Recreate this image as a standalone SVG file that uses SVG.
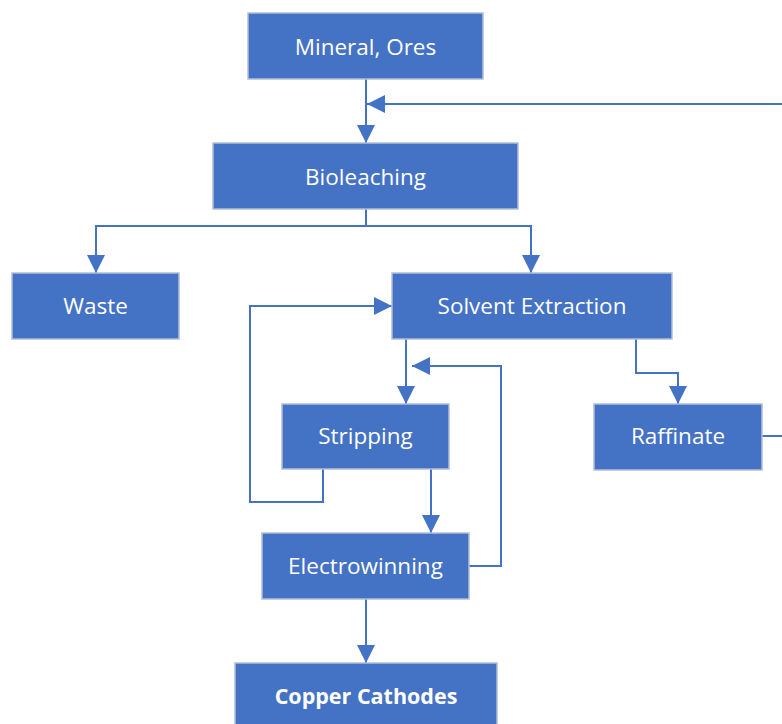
<svg xmlns="http://www.w3.org/2000/svg" width="782" height="724" viewBox="0 0 782 724">
<style>
.box{fill:#4472C4;stroke:#b3bfd6;stroke-width:1.5}
.lbl{font-family:"Open Sans","Noto Sans","Liberation Sans",sans-serif;font-size:22.5px;fill:#ffffff;text-anchor:middle;dominant-baseline:central}
.b{font-weight:bold;font-size:21.5px}
.c{fill:none;stroke:#4472C4;stroke-width:2}
</style>
<defs>
<marker id="ah" markerUnits="userSpaceOnUse" markerWidth="18" markerHeight="18" viewBox="0 0 16 16" refX="16" refY="8" orient="auto">
<path d="M0,0 L16,8 L0,16 Z" fill="#4472C4"/>
</marker>
</defs>
<rect width="782" height="724" fill="#ffffff"/>
<g id="connectors">
<path class="c" d="M366,79 V143" marker-end="url(#ah)"/>
<path class="c" d="M790,104 H367" marker-end="url(#ah)"/>
<path class="c" d="M762,436 H790"/>
<path class="c" d="M366,209 V226 H96 V273" marker-end="url(#ah)"/>
<path class="c" d="M366,226 H531 V273" marker-end="url(#ah)"/>
<path class="c" d="M636,339 V373 H678 V404" marker-end="url(#ah)"/>
<path class="c" d="M406,339 V404" marker-end="url(#ah)"/>
<path class="c" d="M323,469 V502 H250 V306 H392" marker-end="url(#ah)"/>
<path class="c" d="M431,469 V533" marker-end="url(#ah)"/>
<path class="c" d="M469,566 H501 V366 H412" marker-end="url(#ah)"/>
<path class="c" d="M366,599 V663" marker-end="url(#ah)"/>
</g>
<g id="mineral"><rect class="box" x="248" y="13" width="235" height="66"/><text class="lbl" x="365.5" y="46">Mineral, Ores</text></g>
<g id="bioleaching"><rect class="box" x="213" y="143" width="305" height="66"/><text class="lbl" x="365.5" y="176">Bioleaching</text></g>
<g id="waste"><rect class="box" x="12" y="273" width="167" height="66"/><text class="lbl" x="95.5" y="305">Waste</text></g>
<g id="solvent"><rect class="box" x="392" y="273" width="280" height="66"/><text class="lbl" x="532" y="305">Solvent Extraction</text></g>
<g id="raffinate"><rect class="box" x="594" y="404" width="168" height="66"/><text class="lbl" x="678" y="435">Raffinate</text></g>
<g id="stripping"><rect class="box" x="282" y="404" width="167" height="65"/><text class="lbl" x="365.5" y="435">Stripping</text></g>
<g id="electrowinning"><rect class="box" x="262" y="533" width="207" height="66"/><text class="lbl" x="365.5" y="565">Electrowinning</text></g>
<g id="copper"><rect class="box" x="235" y="663" width="262" height="72"/><text class="lbl b" x="366" y="695">Copper Cathodes</text></g>
</svg>
